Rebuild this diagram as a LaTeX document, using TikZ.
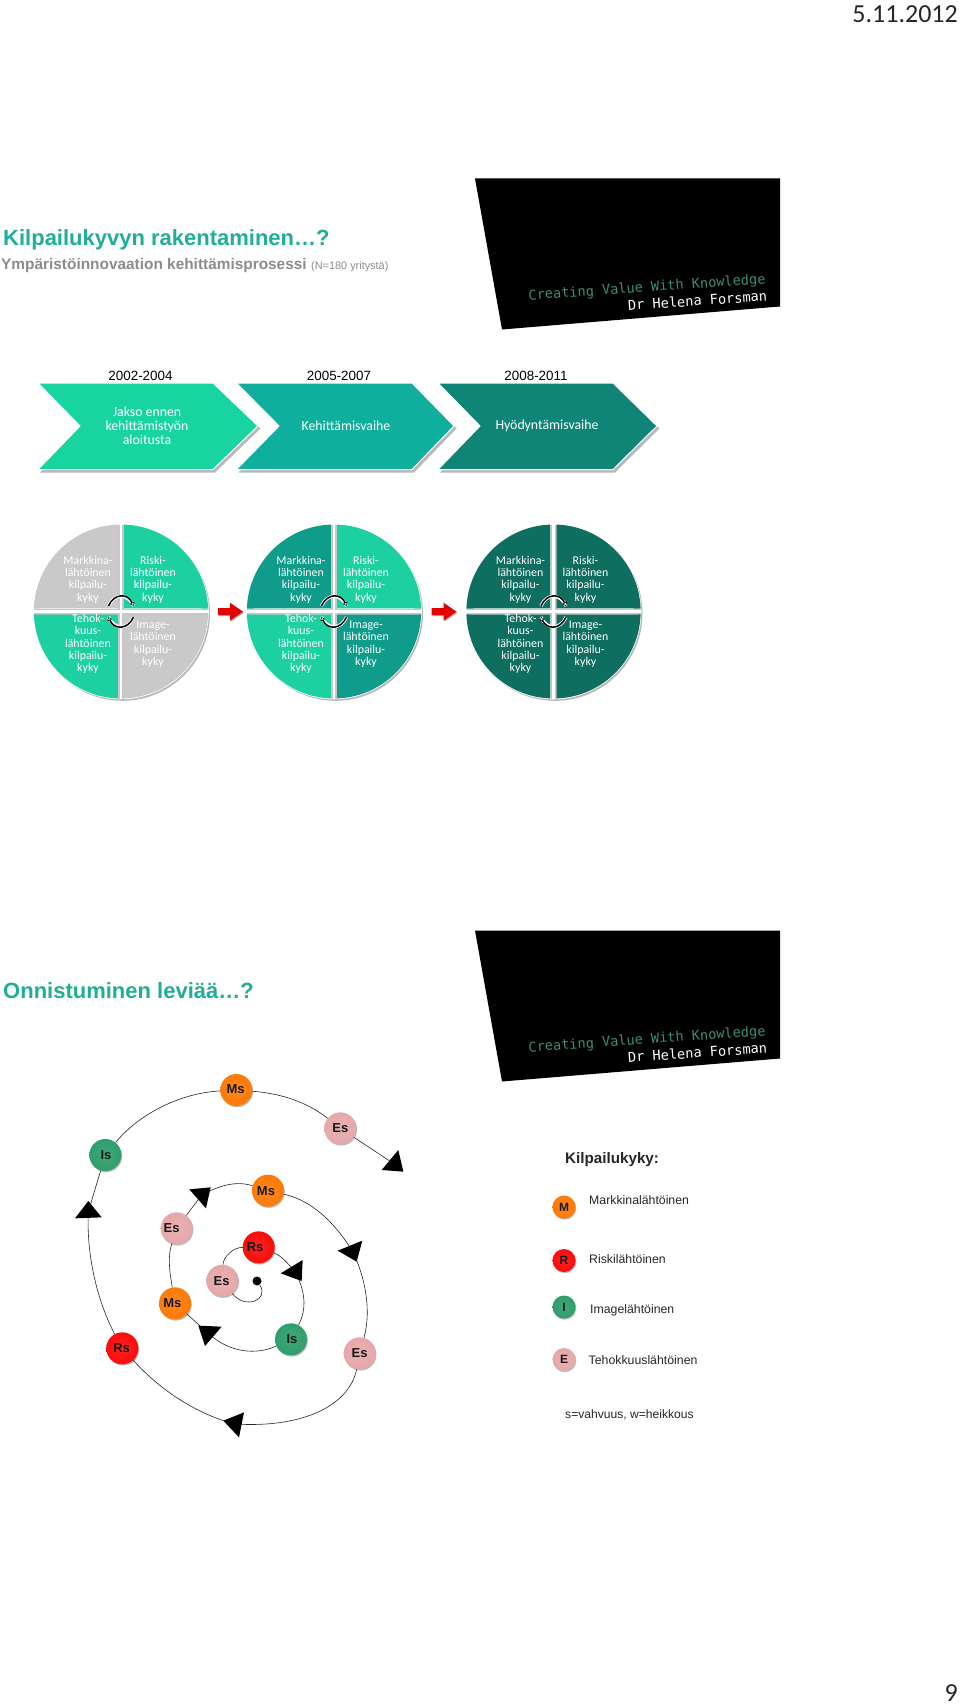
\documentclass[tikz,border=0pt]{standalone}
\usepackage{fontspec}
\setmainfont{Liberation Sans}
\newfontfamily\carl{Carlito}
\newfontfamily\logofont{DejaVu Sans Mono}
\usetikzlibrary{shadows,arrows.meta}
\definecolor{titlegreen}{HTML}{20AE98}
\definecolor{subgray}{HTML}{8C8C8C}
\definecolor{chevA}{HTML}{18D4A0}
\definecolor{chevB}{HTML}{10AE9C}
\definecolor{chevC}{HTML}{0E8577}
\definecolor{wheelGray}{HTML}{C9C9C9}
\definecolor{wheelLight}{HTML}{1DD0A2}
\definecolor{wheelMid}{HTML}{0F9C8A}
\definecolor{wheelDark}{HTML}{0E6E60}
\definecolor{logoGreen}{HTML}{3E8A76}
\definecolor{ballM}{HTML}{FF7A05}
\definecolor{ballR}{HTML}{FF0A0A}
\definecolor{ballI}{HTML}{2E9E6C}
\definecolor{ballE}{HTML}{E6A8AA}
\tikzset{
  titletext/.style={anchor=west,inner sep=0,text=titlegreen,font=\fontsize{22}{24}\bfseries\selectfont},
  subtext/.style={anchor=west,inner sep=0,text=subgray,font=\fontsize{15.4}{18}\bfseries\selectfont},
  yeartext/.style={inner sep=0,font=\fontsize{13.4}{15}\selectfont},
  chevtext/.style={inner sep=0,align=center,text=white,font=\carl\fontsize{13.8}{14.2}\selectfont},
  wheeltext/.style={inner sep=0,align=center,text=white,font=\carl\fontsize{11.9}{12.3}\selectfont},
  ball/.style={circle,inner sep=0,minimum size=32pt,font=\fontsize{13}{14}\bfseries\selectfont,text=black!90,
    shading=radial,inner color=#1!90!white,outer color=#1,
    drop shadow={shadow xshift=0.8pt,shadow yshift=-1.2pt,fill=black!60,opacity=.45}},
  legball/.style={ball=#1,minimum size=23pt,font=\fontsize{12}{13}\bfseries\selectfont},
  legtext/.style={anchor=west,inner sep=0,font=\fontsize{12.3}{14}\selectfont,text=black!85},
  spiral/.style={draw=black!85,line width=0.6pt},
  tri/.style={fill=black},
  ring/.style={draw=black,line width=1.5pt},
  ringback/.style={draw=white,line width=3.2pt}
}
\newcommand{\lbl}[3]{\raisebox{#2pt}{\makebox[0pt]{\hspace{\dimexpr 2\dimexpr #1pt\relax\relax}#3}}}
\newcommand{\chev}[7]{%
  \fill[black!28] (#1+2,385.5) -- (#3+2,385.5) -- (#4+2.5,428.5) -- (#3+2,472.5) -- (#1+2,472.5) -- (#2+2,428.5) -- cycle;
  \filldraw[fill=#5,draw=white,line width=1pt] (#1,383) -- (#3,383) -- (#4,426) -- (#3,469.5) -- (#1,469.5) -- (#2,426) -- cycle;
  \node[chevtext] (#6) at (#2+67,426) {#7};
}
\newcommand{\wheel}[6]{%
  \begin{scope}[shift={(#1,611.5)}]
    \fill[black!28] (1.5,1.8) circle[radius=87.5pt];
    \fill[white] (0,0) circle[radius=87.8pt];
    \fill[black!22] (-87,-3) rectangle (87,3);
    \fill[black!22] (-3,-87) rectangle (3,87);
    \fill[white] (-87.5,-1.2) rectangle (87.5,1.2);
    \fill[white] (-1.2,-87.5) rectangle (1.2,87.5);
    \fill[#2] (-3.2,-3.2) -- (-3.2,-86.9) arc[start angle=92,end angle=178,radius=87pt] -- cycle;
    \fill[#3] (3.2,-3.2) -- (3.2,-86.9) arc[start angle=88,end angle=2,radius=87pt] -- cycle;
    \fill[#4] (-3.2,3.2) -- (-3.2,86.9) arc[start angle=268,end angle=182,radius=87pt] -- cycle;
    \fill[#5] (3.2,3.2) -- (3.2,86.9) arc[start angle=272,end angle=358,radius=87pt] -- cycle;
    \node[wheeltext] (#6m) at (-33,-32) {Markkina-\\lähtöinen\\kilpailu-\\kyky};
    \node[wheeltext] (#6r) at (32,-32) {Riski-\\lähtöinen\\kilpailu-\\kyky};
    \node[wheeltext] (#6t) at (-33,32.5) {Tehok-\\kuus-\\lähtöinen\\kilpailu-\\kyky};
    \node[wheeltext] (#6i) at (32,32.5) {Image-\\lähtöinen\\kilpailu-\\kyky};
    \coordinate (#6a) at (-12.5,-5.5);
    \coordinate (#6b) at (12.5,-5.5);
    \coordinate (#6c) at (12.5,5.5);
    \coordinate (#6d) at (-12.5,5.5);
    \draw[ringback] (#6a) .. controls (-7,-18.5) and (7,-18.5) .. (#6b);
    \draw[ringback] (#6c) .. controls (7,18.5) and (-7,18.5) .. (#6d);
    \draw[ring,-{Triangle[fill=white,length=3.5pt,width=5pt,line width=.5pt]}] (#6a) .. controls (-7,-18.5) and (7,-18.5) .. (#6b);
    \draw[ring,-{Triangle[fill=white,length=3.5pt,width=5pt,line width=.5pt]}] (#6c) .. controls (7,18.5) and (-7,18.5) .. (#6d);
  \end{scope}
}
\newcommand{\logoimg}[2]{%
  \begin{scope}[yshift=#1]
    \fill[black] (475,178.5) -- (780,178.5) -- (780,306.5) -- (502,329.5) -- cycle;
    \node[rotate=4,inner sep=0,text=logoGreen,font=\logofont\fontsize{13.6}{15}\selectfont] (#2a) at (647,288) {Creating Value With Knowledge};
    \node[rotate=4,inner sep=0,text=white,font=\logofont\fontsize{13.6}{15}\selectfont] (#2b) at (697.5,300.5) {Dr Helena Forsman};
  \end{scope}
}
\newcommand{\redarrow}[1]{%
  \begin{scope}[shift={(#1,611.7)}]
    \fill[black!30] (1,-2.5) -- (13,-2.5) -- (13,-8) -- (26,1) -- (13,10) -- (13,4.5) -- (1,4.5) -- cycle;
    \fill[red!90!black] (0,-3.5) -- (12,-3.5) -- (12,-9) -- (25,0) -- (12,9) -- (12,3.5) -- (0,3.5) -- cycle;
  \end{scope}
}
\begin{document}
\begin{tikzpicture}[x=1pt,y=-1pt]
\useasboundingbox (0,0) rectangle (960,1707);
\fill[white] (0,0) rectangle (960,1707);
\node[anchor=east,inner sep=0,font=\carl\fontsize{26}{28}\selectfont,text=black!85] (date) at (958,14) {5.11.2012};
\node[anchor=east,inner sep=0,font=\carl\fontsize{26}{28}\selectfont,text=black!85] (page) at (958,1693) {9};

% first slide
\logoimg{0pt}{la}
\node[titletext] (t1) at (3,239.5) {Kilpailukyvyn rakentaminen…?};
\node[subtext] (s1) at (1,266) {Ympäristöinnovaation kehittämisprosessi};
\node[anchor=west,inner sep=0,text=subgray,font=\fontsize{10.9}{12}\selectfont] (s2) at (311,267) {(N=180 yritystä)};
\node[yeartext] (y1) at (140.5,376) {2002-2004};
\node[yeartext] (y2) at (339,376) {2005-2007};
\node[yeartext] (y3) at (536,376) {2008-2011};
\chev{38}{80}{213}{258}{chevA}{c1}{Jakso ennen\\kehittämistyön\\aloitusta}
\chev{236.5}{279}{412}{454}{chevB}{c2}{Kehittämisvaihe}
\chev{438}{480}{613}{657}{chevC}{c3}{Hyödyntämisvaihe}
\wheel{121}{wheelGray}{wheelLight}{wheelLight}{wheelGray}{wa}
\wheel{334}{wheelMid}{wheelLight}{wheelLight}{wheelMid}{wb}
\wheel{553.5}{wheelDark}{wheelDark}{wheelDark}{wheelDark}{wc}
\redarrow{218}
\redarrow{431.5}

% second slide
\logoimg{-752pt}{lb}
\node[titletext] (t2) at (3,991) {Onnistuminen leviää…?};

\begin{scope}[shift={(60,1060)},x=0.33333pt,y=-0.33333pt]
  % spiral nodes
  \node[ball=ballM] (ms1) at (529,90) {\lbl{-0.7}{1.7}{Ms}};
  \node[ball=ballE] (es1) at (841,205) {\lbl{0}{-1.7}{Es}};
  \node[ball=ballI] (is1) at (136,285) {\lbl{0.7}{0}{Is}};
  \node[ball=ballM] (ms2) at (624,392) {\lbl{-2}{-1}{Ms}};
  \node[ball=ballE] (es2) at (350,505) {\lbl{-5}{-1}{Es}};
  \node[ball=ballR] (rs1) at (596,562) {\lbl{-3.5}{0}{Rs}};
  \node[ball=ballE] (es3) at (487,662) {\lbl{-0.7}{0}{Es}};
  \node[ball=ballM] (ms3) at (345,730) {\lbl{-2.7}{-1}{Ms}};
  \node[ball=ballI] (is2) at (693,838) {\lbl{1}{1}{Is}};
  \node[ball=ballR] (rs2) at (187,865) {\lbl{-0.7}{0}{Rs}};
  \node[ball=ballE] (es4) at (899,880) {\lbl{0}{-1.7}{Es}};
  \node[circle,fill=black,inner sep=0,minimum size=9pt] (dot) at (591,663) {};
  \coordinate (t1c) at (1000,310);
  \coordinate (t2c) at (425,405);
  \coordinate (t3c) at (85,455);
  \coordinate (t4c) at (878,575);
  \coordinate (t5c) at (705,635);
  \coordinate (t6c) at (445,820);
  \coordinate (t7c) at (525,1092);
  % spiral, from the centre outwards
  \draw[spiral] (dot) .. controls (630,720) and (555,750) .. (es3);
  \draw[spiral] (es3) .. controls (490,590) and (520,562) .. (rs1);
  \draw[spiral] (rs1) .. controls (660,585) and (680,605) .. (t5c);
  \draw[spiral] (t5c) .. controls (735,690) and (742,745) .. (is2);
  \draw[spiral] (is2) .. controls (590,885) and (510,880) .. (t6c);
  \draw[spiral] (t6c) -- (ms3);
  \draw[spiral] (ms3) .. controls (328,630) and (323,590) .. (es2);
  \draw[spiral] (es2) -- (t2c);
  \draw[spiral] (t2c) .. controls (480,375) and (530,362) .. (ms2);
  \draw[spiral] (ms2) .. controls (750,420) and (820,480) .. (t4c);
  \draw[spiral] (t4c) .. controls (915,650) and (935,750) .. (es4);
  \draw[spiral] (es4) .. controls (870,1030) and (740,1105) .. (t7c);
  \draw[spiral] (t7c) .. controls (420,1065) and (310,1000) .. (rs2);
  \draw[spiral] (rs2) .. controls (120,740) and (78,600) .. (t3c);
  \draw[spiral] (t3c) -- (is1);
  \draw[spiral] (is1) .. controls (230,170) and (350,100) .. (ms1);
  \draw[spiral] (ms1) .. controls (660,100) and (740,125) .. (es1);
  \draw[spiral] (es1) -- (t1c);
  % arrowheads
  \fill[tri] (1015,270) -- (965,330) -- (1030,335) -- cycle;
  \fill[tri] (388,388) -- (452,382) -- (438,445) -- cycle;
  \fill[tri] (85,423) -- (45,475) -- (125,472) -- cycle;
  \fill[tri] (907,542) -- (833,572) -- (890,605) -- cycle;
  \fill[tri] (728,600) -- (662,640) -- (725,663) -- cycle;
  \fill[tri] (415,797) -- (485,800) -- (435,858) -- cycle;
  \fill[tri] (552,1057) -- (490,1082) -- (537,1132) -- cycle;
\end{scope}

% legend
\node[anchor=west,inner sep=0,font=\fontsize{15.2}{17}\bfseries\selectfont,text=black!85] (legh) at (565,1160) {Kilpailukyky:};
\node[legball=ballM] (lm) at (564,1207) {M};
\node[legball=ballR] (lr) at (564,1260.5) {R};
\node[legball=ballI] (li) at (564,1307) {I};
\node[legball=ballE] (le) at (564,1359.5) {E};
\node[legtext] (tm) at (589,1200) {Markkinalähtöinen};
\node[legtext] (tr) at (589,1259) {Riskilähtöinen};
\node[legtext] (ti) at (590,1310) {Imagelähtöinen};
\node[legtext] (te) at (588.5,1360) {Tehokkuuslähtöinen};
\node[legtext,font=\fontsize{12.1}{14}\selectfont] (ts) at (565,1415) {s=vahvuus, w=heikkous};
\end{tikzpicture}
\end{document}
